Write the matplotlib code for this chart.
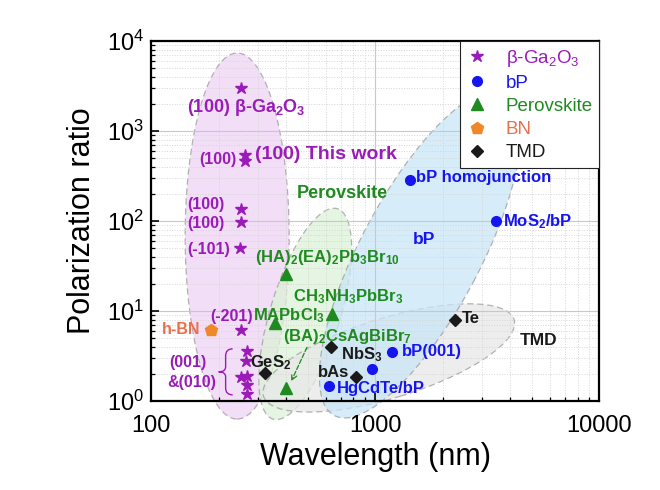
import matplotlib
matplotlib.use('Agg')
import matplotlib.pyplot as plt
from matplotlib.patches import Ellipse, PathPatch
from matplotlib.path import Path
from matplotlib import transforms
from matplotlib.ticker import LogLocator, LogFormatterMathtext, FixedLocator, FixedFormatter, NullFormatter

plt.rcParams['font.family'] = ['Liberation Sans', 'DejaVu Sans']
plt.rcParams['mathtext.fontset'] = 'custom'
plt.rcParams['mathtext.rm'] = 'Liberation Sans'
plt.rcParams['mathtext.it'] = 'Liberation Sans:italic'
plt.rcParams['mathtext.bf'] = 'Liberation Sans:bold'

# data (wavelength nm, polarization ratio)
ga_wl = [252, 263, 262, 252, 252, 250, 252, 267, 264, 252, 267, 267, 267]
ga_pr = [3000, 540, 460, 136, 97, 50, 6.1, 3.6, 2.8, 1.83, 1.9, 1.49, 1.2]
bp_wl = [1432, 3467, 1191, 970, 624]
bp_pr = [286, 100, 3.5, 2.27, 1.47]
pv_wl = [401, 643, 358, 401]
pv_pr = [25.8, 9.3, 7.4, 1.39]
bn_wl = [185]
bn_pr = [6.1]
tmd_wl = [323, 637, 822, 2275]
tmd_pr = [2.05, 4.0, 1.85, 7.9]

PURPLE = '#9b1bb8'
BLUE = '#1515f0'
GREEN = '#1f8a1f'
ORANGE = '#f0882a'
BNTXT = '#e8704a'
BLACK = '#1a1a1a'

# shaded regions: centre (wl, ratio), width / height in inches, angle, colour
regions = [
    (242, 68, 1.04, 3.66, 0, '#eed4f5'),
    (487, 9.26, 2.20, 0.70, 73, '#dcf2d8'),
    (1150, 3.0, 2.62, 0.80, 17, '#e8e8e8'),
    (1589, 43, 3.66, 1.20, 62, '#c9e6f7'),
]

labels = [
    (r'(100) β-Ga$_\mathbf{2}$O$_\mathbf{3}$', 265, 1850, PURPLE, 13, 'center'),
    ('(100)', 199, 489, PURPLE, 11.5, 'center'),
    ('(100) This work', 291, 555, PURPLE, 14, 'left'),
    ('(100)', 176, 154, PURPLE, 11.5, 'center'),
    ('(100)', 176, 92.6, PURPLE, 11.5, 'center'),
    ('(-101)', 180, 48.8, PURPLE, 11.5, 'center'),
    ('(-201)', 228, 8.6, PURPLE, 11.5, 'center'),
    ('(001)', 146, 2.64, PURPLE, 11.5, 'center'),
    ('&(010)', 152, 1.58, PURPLE, 11.5, 'center'),
    ('h-BN', 166, 6.16, BNTXT, 11.5, 'right'),
    ('Perovskite', 713, 200, GREEN, 13, 'center'),
    (r'(HA)$_\mathbf{2}$(EA)$_\mathbf{2}$Pb$_\mathbf{3}$Br$_\mathbf{10}$', 291, 38.8, GREEN, 12, 'left'),
    (r'CH$_\mathbf{3}$NH$_\mathbf{3}$PbBr$_\mathbf{3}$', 430, 14.3, GREEN, 12, 'left'),
    (r'MAPbCl$_\mathbf{3}$', 285, 8.8, GREEN, 12, 'left'),
    (r'(BA)$_\mathbf{2}$CsAgBiBr$_\mathbf{7}$', 388, 5.14, GREEN, 12, 'left'),
    ('bP', 1656, 63, BLUE, 12.5, 'center'),
    ('bP homojunction', 1524, 308, BLUE, 12, 'left'),
    (r'MoS$_\mathbf{2}$/bP', 3725, 97.5, BLUE, 12, 'left'),
    ('bP(001)', 1319, 3.5, BLUE, 12, 'left'),
    ('HgCdTe/bP', 676, 1.36, BLUE, 12, 'left'),
    ('TMD', 5346, 4.64, BLACK, 12.5, 'center'),
    ('Te', 2443, 8.15, BLACK, 12, 'left'),
    (r'NbS$_\mathbf{3}$', 705, 3.25, BLACK, 12, 'left'),
    ('bAs', 766, 2.05, BLACK, 12, 'right'),
    (r'GeS$_\mathbf{2}$', 277, 2.64, BLACK, 12, 'left'),
]

fig = plt.figure(figsize=(6.6, 4.9), dpi=100)
ax = fig.add_axes([0.229, 0.182, 0.679, 0.734])
ax.set_xscale('log')
ax.set_yscale('log')
ax.set_xlim(100, 10000)
ax.set_ylim(1, 10000)

for cx, cy, w, h, ang, col in regions:
    tr = fig.dpi_scale_trans + transforms.ScaledTranslation(cx, cy, ax.transData)
    e = Ellipse((0, 0), w, h, angle=ang, transform=tr, facecolor=col, alpha=0.75,
                edgecolor='#9a9a9a', linestyle=(0, (5, 3)), linewidth=0.9,
                clip_on=False, zorder=1)
    ax.add_patch(e)

ax.grid(True, which='major', color='#c8c8c8', linewidth=0.8)
ax.grid(True, which='minor', color='#d6d6d6', linewidth=0.7, linestyle=':')

ax.plot(ga_wl, ga_pr, linestyle='none', marker='*', ms=9, color=PURPLE, label='β-Ga$_2$O$_3$', zorder=3)
ax.plot(bp_wl, bp_pr, linestyle='none', marker='o', ms=7, color=BLUE, label='bP', zorder=3)
ax.plot(pv_wl, pv_pr, linestyle='none', marker='^', ms=8, color=GREEN, label='Perovskite', zorder=3)
ax.plot(bn_wl, bn_pr, linestyle='none', marker='p', ms=9, color=ORANGE, label='BN', zorder=3)
ax.plot(tmd_wl, tmd_pr, linestyle='none', marker='D', ms=6, color=BLACK, label='TMD', zorder=3)

for txt, x, y, col, fs, ha in labels:
    ax.text(x, y, txt, color=col, fontsize=fs, fontweight='bold', ha=ha, va='center', zorder=4)

# dashed arrow from (BA)2CsAgBiBr7 to its point
ax.annotate('', xy=(417, 1.55), xytext=(502, 4.2),
            arrowprops=dict(arrowstyle='->', color=GREEN, linestyle='--', linewidth=0.9), zorder=4)

# curly brace for (001)&(010)
bv = [(7, 23), (0, 23), (0, 16), (0, 5), (0, 0), (-7, 0), (0, 0), (0, -5), (0, -16), (0, -23), (7, -23)]
bc = [Path.MOVETO, Path.CURVE3, Path.CURVE3, Path.LINETO, Path.CURVE3, Path.CURVE3,
      Path.CURVE3, Path.CURVE3, Path.LINETO, Path.CURVE3, Path.CURVE3]
btr = transforms.Affine2D().scale(0.01) + fig.dpi_scale_trans + transforms.ScaledTranslation(215, 2.1, ax.transData)
ax.add_patch(PathPatch(Path(bv, bc), transform=btr, facecolor='none', edgecolor=PURPLE, linewidth=1.0, zorder=4))

ax.xaxis.set_major_locator(FixedLocator([100, 1000, 10000]))
ax.xaxis.set_major_formatter(FixedFormatter(['100', '1000', '10000']))
ax.xaxis.set_minor_locator(LogLocator(base=10, subs=range(2, 10)))
ax.xaxis.set_minor_formatter(NullFormatter())
ax.yaxis.set_major_locator(LogLocator(base=10, numticks=10))
ax.yaxis.set_major_formatter(LogFormatterMathtext())
ax.yaxis.set_minor_locator(LogLocator(base=10, subs=range(2, 10), numticks=10))
ax.yaxis.set_minor_formatter(NullFormatter())

ax.tick_params(which='both', direction='in', top=False, right=False, labelsize=17)
ax.tick_params(which='major', length=6, width=1.2)
ax.tick_params(which='minor', length=3, width=0.9)
ax.tick_params(axis='x', pad=10)
ax.tick_params(axis='y', pad=5)
for s in ax.spines.values():
    s.set_linewidth(1.6)

ax.set_xlabel('Wavelength (nm)', fontsize=22, labelpad=4)
ax.set_ylabel('Polarization ratio', fontsize=22, labelpad=7)

leg = ax.legend(loc='upper right', fontsize=13.5, frameon=True, fancybox=False, framealpha=1,
                edgecolor='#222222', borderaxespad=0, handletextpad=0.9, labelspacing=0.32,
                borderpad=0.35, handlelength=1.2)
leg.get_frame().set_linewidth(0.8)
leg.set_zorder(5)
for t, c in zip(leg.get_texts(), [PURPLE, BLUE, GREEN, BNTXT, BLACK]):
    t.set_color(c)

fig.savefig('out.png', dpi=100)
